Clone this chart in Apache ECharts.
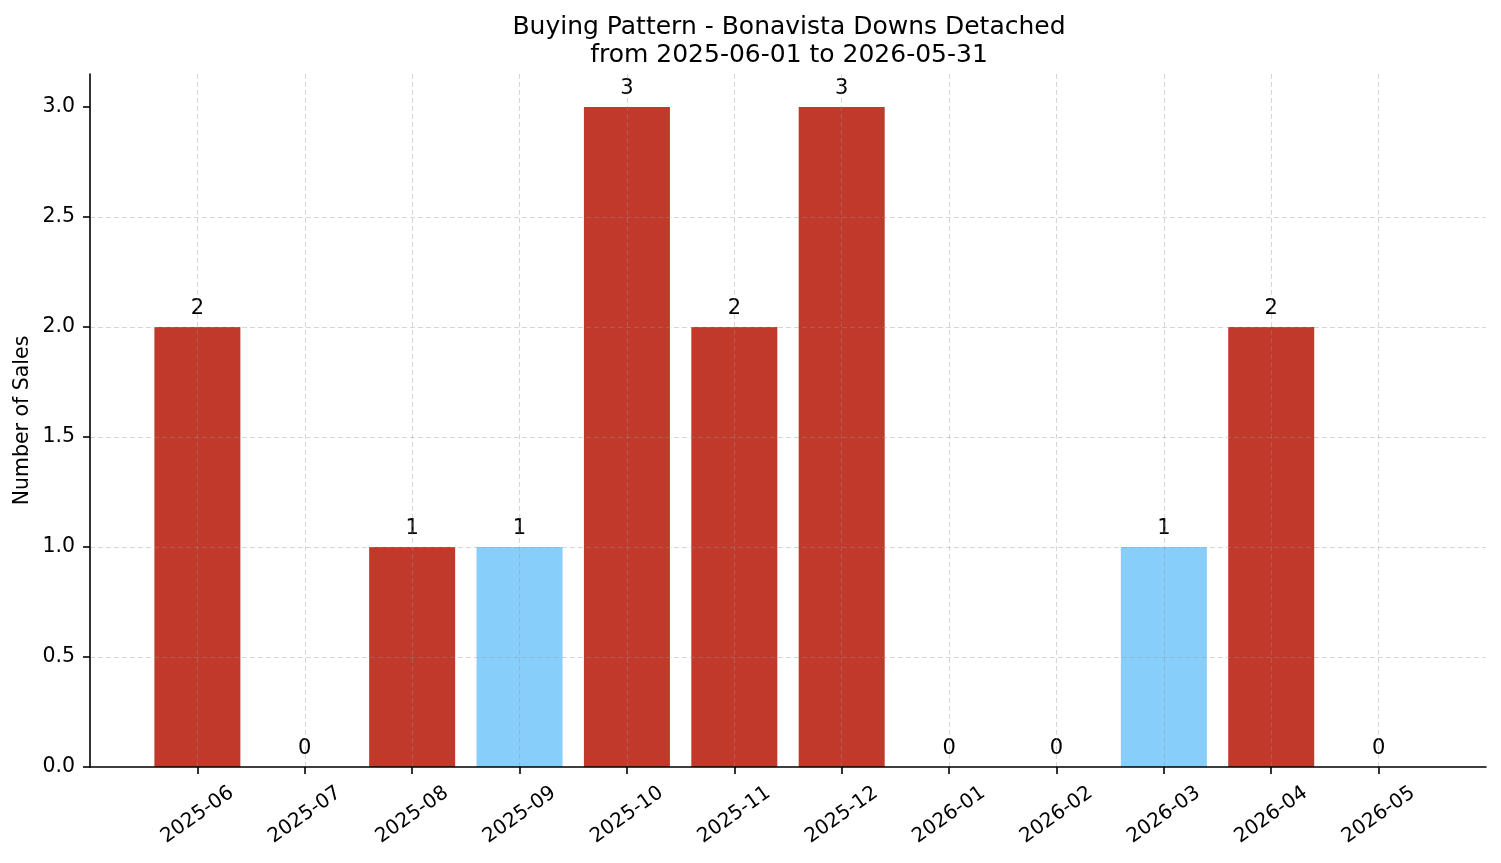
<!DOCTYPE html>
<html>
<head>
<meta charset="utf-8">
<script src="https://cdn.jsdelivr.net/npm/echarts@6/dist/echarts.min.js"></script>
<style>
  html, body { margin: 0; padding: 0; background: #fff; }
  #chart { width: 1501px; height: 863px; }
</style>
</head>
<body>
<div id="chart"></div>
<script>
// months on the x axis
const months = ["2025-06", "2025-07", "2025-08", "2025-09", "2025-10", "2025-11",
  "2025-12", "2026-01", "2026-02", "2026-03", "2026-04", "2026-05"];
// number of sales per month
const sales = [2, 0, 1, 1, 3, 2, 3, 0, 0, 1, 2, 0];
// which months are highlighted (light blue)
const highlight = [false, false, false, true, false, false, false, false, false, true, false, false];
const yTicks = [0, 0.5, 1.0, 1.5, 2.0, 2.5, 3.0];

const RED = "#C0392B";
const BLUE = "#87CEFA";
const FONT = "DejaVu Sans";

// pad the category axis one slot on each side (matplotlib default margins)
const xCats = [""].concat(months, [""]);
const barData = sales.map(function (v, i) {
  return {
    value: [i + 1, v],
    itemStyle: { color: highlight[i] ? BLUE : RED }
  };
});

const chart = echarts.init(document.getElementById("chart"), null, { renderer: "canvas" });
const gridLine = { color: "rgba(150,150,150,0.38)", width: 1, type: [5, 3] };

chart.setOption({
  animation: false,
  backgroundColor: "#fff",
  title: {
    text: "Buying Pattern - Bonavista Downs Detached\nfrom 2025-06-01 to 2026-05-31",
    left: 784,
    textAlign: "center",
    top: 8,
    textStyle: {
      fontFamily: FONT,
      fontSize: 25,
      fontWeight: "normal",
      color: "#000",
      lineHeight: 28.5
    }
  },
  grid: { left: 90, right: 15, top: 74, bottom: 96, containLabel: false },
  xAxis: {
    type: "category",
    data: xCats,
    boundaryGap: false,
    z: 5,
    axisLine: { lineStyle: { color: "#000", width: 1.6 } },
    axisTick: {
      length: 7,
      lineStyle: { color: "#000", width: 1.6 },
      interval: function (idx) { return idx > 0 && idx < xCats.length - 1; }
    },
    axisLabel: {
      rotate: 35,
      align: "center",
      verticalAlign: "middle",
      margin: 48,
      fontFamily: FONT,
      fontSize: 20,
      color: "#000",
      interval: 0
    },
    splitLine: {
      show: true,
      lineStyle: gridLine,
      interval: function (idx) { return idx > 0 && idx < xCats.length - 1; }
    }
  },
  yAxis: {
    type: "value",
    min: 0,
    max: 3.15,
    interval: 0.5,
    z: 5,
    name: "Number of Sales",
    nameLocation: "middle",
    nameGap: 57,
    nameMoveOverlap: false,
    nameTextStyle: { fontFamily: FONT, fontSize: 20.5, color: "#000" },
    axisLine: { show: true, lineStyle: { color: "#000", width: 1.6 } },
    axisTick: { show: true, length: 7, lineStyle: { color: "#000", width: 1.6 }, customValues: yTicks },
    axisLabel: {
      margin: 15,
      fontFamily: FONT,
      fontSize: 20.5,
      color: "#000",
      customValues: yTicks,
      formatter: function (v) { return v.toFixed(1); }
    },
    splitLine: { show: true, showMinLine: false, showMaxLine: false, lineStyle: gridLine }
  },
  series: [
    {
      type: "bar",
      data: barData,
      barWidth: 86,
      z: 2,
      label: {
        show: true,
        position: "top",
        distance: 8,
        fontFamily: FONT,
        fontSize: 21,
        color: "#000",
        formatter: function (p) { return String(p.value[1]); }
      }
    }
  ]
});
</script>
</body>
</html>
